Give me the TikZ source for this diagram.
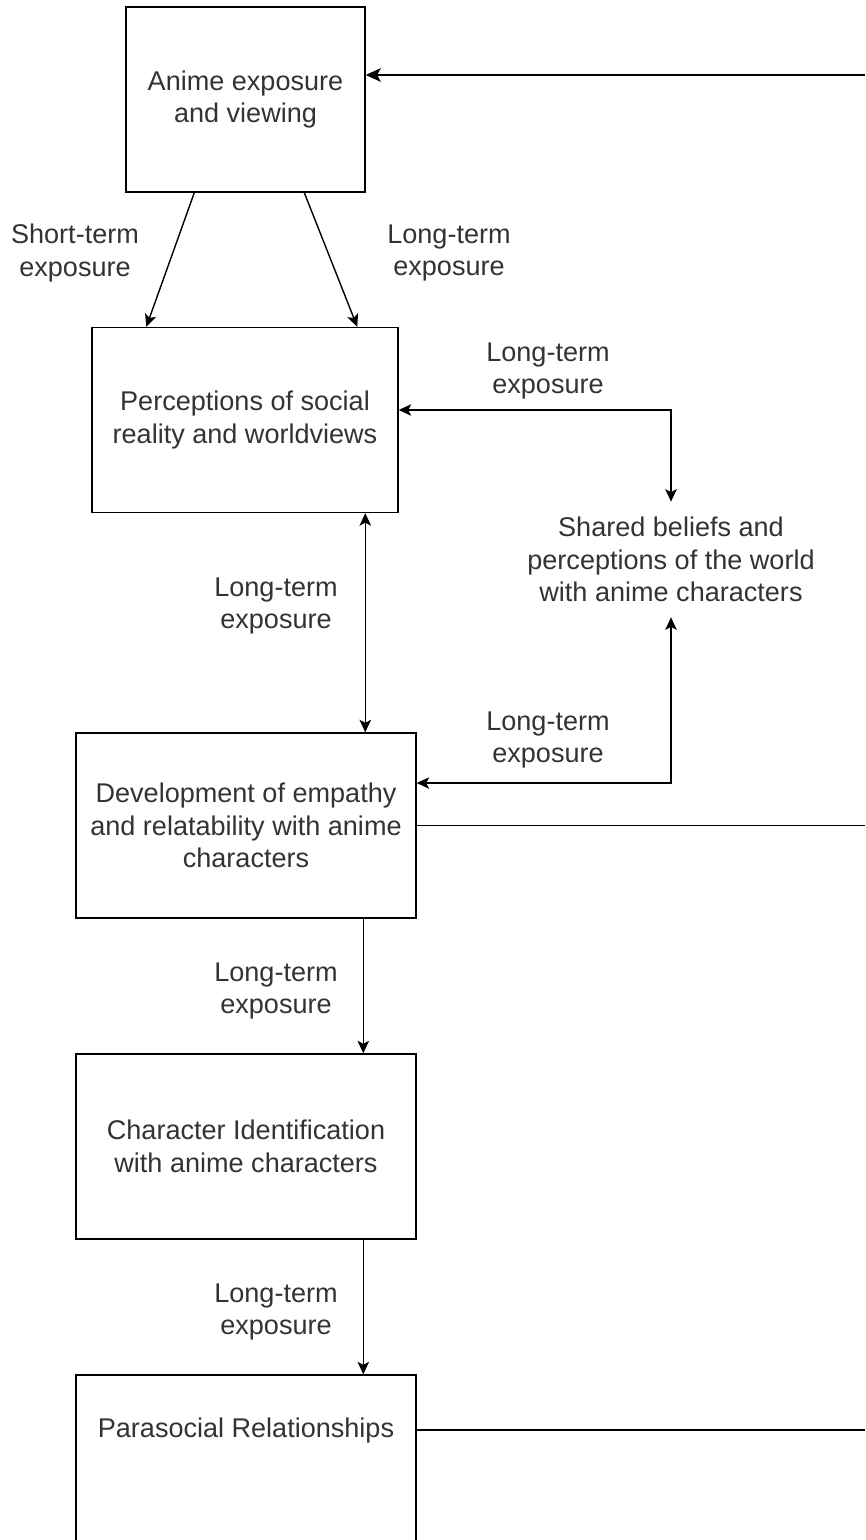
\documentclass[tikz,border=0pt]{standalone}
\usepackage{fontspec}
\setmainfont{Liberation Sans}
\usetikzlibrary{arrows.meta}

\begin{document}
\begin{tikzpicture}[x=0.02cm, y=-0.02cm,
   every node/.style={font=\fontsize{15.4}{18.5}\selectfont, text=black!80, align=center},
   box/.style={draw, line width=0.8pt, minimum height=3.7cm},
   lbl/.style={inner sep=0pt},
   link/.style={line width=0.8pt, -{Stealth[length=0.25cm, width=0.23cm, inset=0.06cm]}},
   both/.style={link, {Stealth[length=0.25cm, width=0.23cm, inset=0.06cm]}-{Stealth[length=0.25cm, width=0.23cm, inset=0.06cm]}}]
   \useasboundingbox (0,0) rectangle (865,1540);
   \clip (0,0) rectangle (865,1540);
   \coordinate (edge) at (865,0);
   \coordinate (feed) at (865,75);

   % Boxes
   \node[box, minimum width=4.78cm] (anime) at (245.5,99.5) {Anime exposure\\and viewing};
   \node[box, minimum width=6.12cm] (social) at (245,420) {Perceptions of social\\reality and worldviews};
   \node[box, minimum width=6.8cm] (empathy) at (246,825.5) {Development of empathy\\and relatability with anime\\characters};
   \node[box, minimum width=6.8cm] (ident) at (246,1146.5) {Character Identification\\with anime characters};
   \node[box, minimum width=6.8cm] (para) at (246,1467.5)
      {\raisebox{0.75cm}[\height][\depth]{Parasocial Relationships}};
   \node[lbl, minimum height=2.3cm] (shared) at (671,559.5) {Shared beliefs and\\perceptions of the world\\with anime characters};

   % Labels
   \node[lbl] (short) at (75,253) {Short-term\\exposure};
   \node[lbl] (longA) at (449,253) {Long-term\\exposure};
   \node[lbl] (longB) at (548,371) {Long-term\\exposure};
   \node[lbl] (longC) at (276,606) {Long-term\\exposure};
   \node[lbl] (longD) at (548,740) {Long-term\\exposure};
   \node[lbl] (longE) at (276,991) {Long-term\\exposure};
   \node[lbl] (longF) at (276,1312) {Long-term\\exposure};

   % Connectors
   \draw[line width=1.4pt, -{Stealth[length=0.3cm, width=0.27cm, inset=0.07cm]}] (feed) -- (feed -| anime.east);
   \draw[link] ([xshift=1.38cm]anime.south west) -- ([xshift=1.1cm]social.north west);
   \draw[link] ([xshift=3.58cm]anime.south west) -- ([xshift=5.32cm]social.north west);
   \draw[both] ([yshift=0.2cm]social.east) -| (shared.north);
   \draw[both] ([yshift=0.85cm]empathy.east) -| (shared.south);
   \draw[both] ([xshift=5.48cm]social.south west) coordinate (dd) -- (dd |- empathy.north);
   \draw[link] ([xshift=5.76cm]empathy.south west) -- ([xshift=5.76cm]ident.north west);
   \draw[link] ([xshift=5.76cm]ident.south west) -- ([xshift=5.76cm]para.north west);
   \draw[line width=0.8pt] (empathy.east) -- (empathy.east -| edge);
   \draw[line width=0.8pt] ([yshift=0.75cm]para.east) -- ([yshift=0.75cm]para.east -| edge);
\end{tikzpicture}
\end{document}
